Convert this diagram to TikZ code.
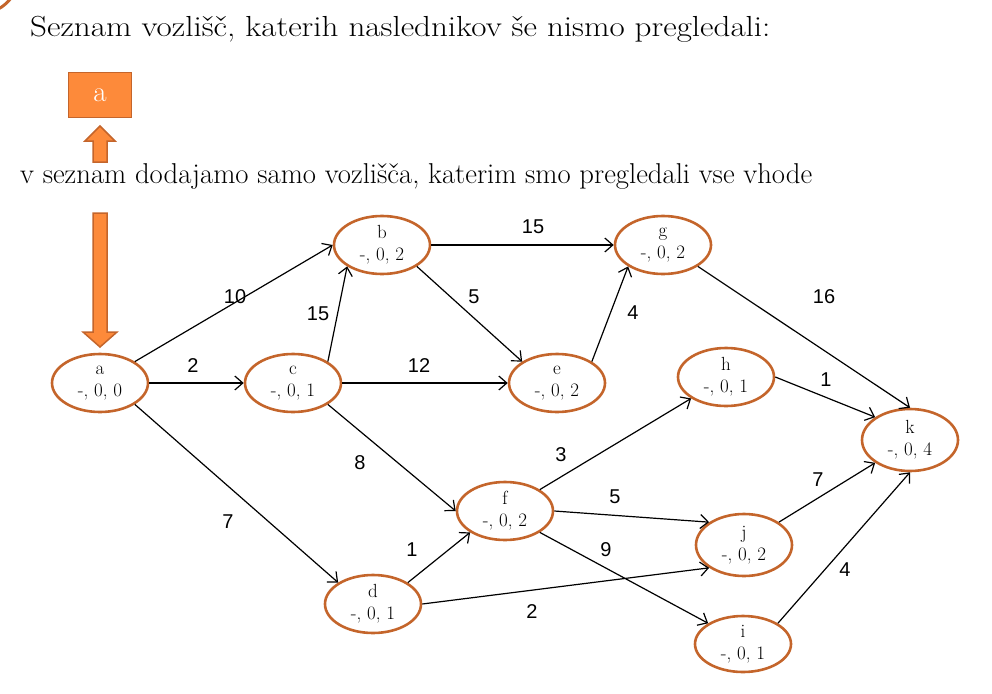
\documentclass[tikz,border=0pt]{standalone}
\usepackage{fontspec}
\newfontfamily\lblfont{Liberation Sans}
\usetikzlibrary{arrows.meta,shapes.geometric}
\definecolor{ofill}{HTML}{FD8A3A}
\definecolor{oline}{HTML}{C4652B}
\tikzset{
  vert/.style={ellipse, draw=oline, line width=2.6pt, minimum width=96pt, minimum height=58pt, inner sep=0pt, align=center, font=\fontsize{19}{22}\selectfont},
  conn/.style={line width=1.2pt, -{Straight Barb[length=8pt,width=14pt,line width=1.2pt]}},
  wlbl/.style={font=\lblfont\fontsize{20}{23}\selectfont, inner sep=0pt},
  barrow/.style={fill=ofill, draw=oline, line width=1.5pt, line join=miter}
}
\begin{document}
\begin{tikzpicture}[x=1pt,y=-1pt]
\useasboundingbox (0,0) rectangle (992,693);
% corner decoration
\draw[oline, line width=3pt] (-20,-25) circle (38.6pt);
% texts
\node[anchor=base west, inner sep=0pt, xscale=1.14, transform shape, font=\fontsize{29}{34}\selectfont] (title) at (30,37) {Seznam vozlišč, katerih naslednikov še nismo pregledali:};
\node[anchor=base west, inner sep=0pt, font=\fontsize{28.7}{34}\selectfont] (sub) at (20,183) {v seznam dodajamo samo vozlišča, katerim smo pregledali vse vhode};
% list box
\node[barrow, minimum width=63pt, minimum height=45pt, inner sep=0pt, text=white, font=\fontsize{29}{34}\selectfont] (box) at (100,95) {a};
% up arrow
\draw[barrow] (100,126) -- (115,141) -- (107,141) -- (107,162) -- (93,162) -- (93,141) -- (85,141) -- cycle;
% down arrow
\draw[barrow] (93,213) -- (107,213) -- (107,332) -- (117,332) -- (100,347) -- (83,332) -- (93,332) -- cycle;
% vertices
\node[vert] (a) at (100,383) {a\\-, 0, 0};
\node[vert] (b) at (382,245) {b\\-, 0, 2};
\node[vert] (c) at (293,383) {c\\-, 0, 1};
\node[vert] (e) at (557,383) {e\\-, 0, 2};
\node[vert] (g) at (663,245) {g\\-, 0, 2};
\node[vert] (h) at (726,377) {h\\-, 0, 1};
\node[vert, minimum height=62pt] (k) at (910,440) {k\\-, 0, 4};
\node[vert] (f) at (505,511) {f\\-, 0, 2};
\node[vert, minimum height=62pt] (j) at (744,545) {j\\-, 0, 2};
\node[vert] (d) at (373,604) {d\\-, 0, 1};
\node[vert, minimum height=56pt] (i) at (743,644) {i\\-, 0, 1};
% connectors
\draw[conn] (a.north east) -- (b.west);
\draw[conn] (a.east) -- (c.west);
\draw[conn] (a.south east) -- (d.north west);
\draw[conn] (c.north east) -- (b.south west);
\draw[conn] (c.east) -- (e.west);
\draw[conn] (c.south east) -- (f.west);
\draw[conn] (b.east) -- (g.west);
\draw[conn] (b.south east) -- (e.north west);
\draw[conn] (e.north east) -- (g.south west);
\draw[conn] (g.south east) -- (k.north);
\draw[conn] (h.east) -- (k.north west);
\draw[conn] (f.north east) -- (h.south west);
\draw[conn] (f.east) -- (j.north west);
\draw[conn] (f.south east) -- (i.north west);
\draw[conn] (d.north east) -- (f.south west);
\draw[conn] (d.east) -- (j.south west);
\draw[conn] (j.north east) -- (k.south west);
\draw[conn] (i.north east) -- (k.south);
% weights
\node[wlbl] (l1) at (235,297) {10};
\node[wlbl] (l2) at (193,366) {2};
\node[wlbl] (l3) at (228,522) {7};
\node[wlbl] (l4) at (318,314) {15};
\node[wlbl] (l5) at (419,366) {12};
\node[wlbl] (l6) at (360,463) {8};
\node[wlbl] (l7) at (533,227) {15};
\node[wlbl] (l8) at (474,297) {5};
\node[wlbl] (l9) at (633,313) {4};
\node[wlbl] (l10) at (824,297) {16};
\node[wlbl] (l11) at (826,380) {1};
\node[wlbl] (l12) at (561,455) {3};
\node[wlbl] (l13) at (615,497) {5};
\node[wlbl] (l14) at (606,550) {9};
\node[wlbl] (l15) at (412,550) {1};
\node[wlbl] (l16) at (532,612) {2};
\node[wlbl] (l17) at (818,480) {7};
\node[wlbl] (l18) at (845,570) {4};
\end{tikzpicture}
\end{document}
